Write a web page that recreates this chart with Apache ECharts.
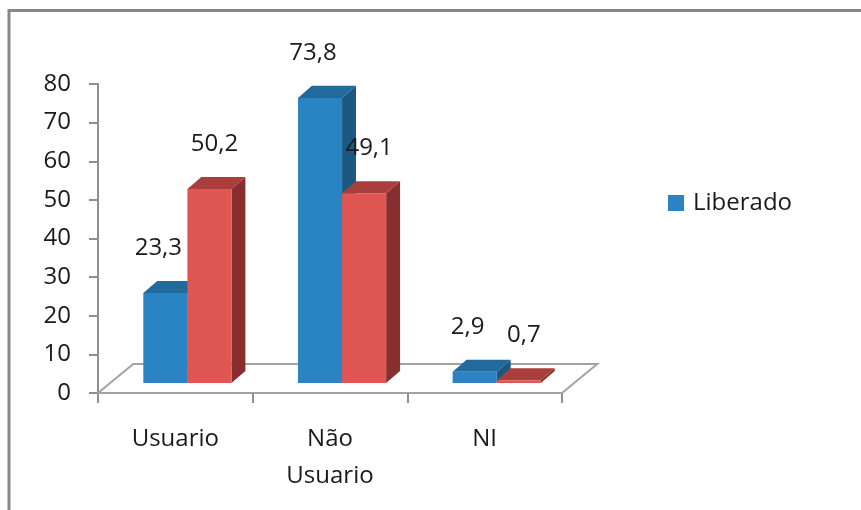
<!DOCTYPE html>
<html>
<head>
<meta charset="utf-8">
<script src="https://cdn.jsdelivr.net/npm/echarts@6/dist/echarts.min.js"></script>
<style>html,body{margin:0;padding:0;background:#fff}#c{width:861px;height:510px}</style>
</head>
<body>
<div id="c"></div>
<script>
const categories = ['Usuario', 'Não\nUsuario', 'NI'];
const liberado = [23.3, 73.8, 2.9];
const serie2 = [50.2, 49.1, 0.7];
const yTicks = [0, 10, 20, 30, 40, 50, 60, 70, 80];

const FONT = 'Open Sans';
const palettes = [
  { front: '#2A83C3', top: '#22699C', side: '#1B5882', labelShift: -7 },
  { front: '#E05653', top: '#A83F3D', side: '#872F2F', labelShift: 5 }
];

function fmt(v) { return v.toFixed(1).replace('.', ','); }

function renderBar(params, api) {
  const cat = api.value(0), v = api.value(1);
  const base = api.coord([cat, 0]);
  const top = api.coord([cat, v]);
  const band = api.size([1, 0])[0];
  const bw = band * 0.285;
  const fx = band * 0.078, fy = -band * 0.065;   // bar front plane offset
  const dx = band * 0.09, dy = -band * 0.078;    // bar depth
  const si = params.seriesIndex - 1;
  const p = palettes[si];
  const x0 = base[0] + fx - bw + si * bw;
  const yb = base[1] + fy, yt = top[1] + fy;
  return {
    type: 'group',
    children: [
      { type: 'polygon', shape: { points: [[x0 + bw, yt], [x0 + bw + dx, yt + dy], [x0 + bw + dx, yb + dy], [x0 + bw, yb]] }, style: { fill: p.side } },
      { type: 'polygon', shape: { points: [[x0, yt], [x0 + bw, yt], [x0 + bw + dx, yt + dy], [x0 + dx, yt + dy]] }, style: { fill: p.top } },
      { type: 'rect', shape: { x: x0, y: yt, width: bw, height: yb - yt }, style: { fill: p.front } },
      { type: 'text', z2: 10, x: x0 + bw / 2 + p.labelShift, y: yt - 45, style: { text: fmt(v), font: '24px "' + FONT + '"', fill: '#1a1a1a', align: 'center', verticalAlign: 'middle' } }
    ]
  };
}

function renderFloor(params, api) {
  const band = api.size([1, 0])[0];
  const a = api.coord([0, 0]);
  const b = api.coord([categories.length - 1, 0]);
  const xl = a[0] - band / 2, xr = b[0] + band / 2, y = a[1];
  const dx = band * 0.228, dy = -band * 0.188;
  return {
    type: 'polyline',
    shape: { points: [[xl, y], [xl + dx, y + dy], [xr + dx, y + dy], [xr, y]] },
    style: { stroke: '#a3a3a3', lineWidth: 2, fill: null }
  };
}

const chart = echarts.init(document.getElementById('c'));
chart.setOption({
  animation: false,
  backgroundColor: '#fff',
  graphic: [{
    type: 'rect', z: 100,
    shape: { x: 9, y: 10.5, width: 1000, height: 1000 },
    style: { fill: null, stroke: '#878787', lineWidth: 3 }
  }],
  legend: {
    data: [{ name: 'Liberado', icon: 'rect', itemStyle: { color: palettes[0].front } }],
    left: 663, top: 186, itemWidth: 16, itemHeight: 16, itemGap: 8,
    textStyle: { fontFamily: FONT, fontSize: 24, color: '#1a1a1a', padding: [0, 0, 0, 4] }
  },
  grid: { left: 98, right: 299, top: 84, bottom: 117 },
  xAxis: {
    type: 'category', data: categories,
    axisLine: { lineStyle: { color: '#a3a3a3', width: 2 } },
    axisTick: { show: true, length: 10, lineStyle: { color: '#8f8f8f', width: 2 } },
    axisLabel: { margin: 28, fontFamily: FONT, fontSize: 24, color: '#1a1a1a', lineHeight: 37, interval: 0 }
  },
  yAxis: {
    type: 'value', min: 0, max: 80, interval: 10,
    axisLine: { show: true, lineStyle: { color: '#8f8f8f', width: 2 } },
    axisTick: { show: true, length: 9, lineStyle: { color: '#8f8f8f', width: 2 } },
    splitLine: { show: false },
    axisLabel: { margin: 27, fontFamily: FONT, fontSize: 24, color: '#1a1a1a',
      formatter: v => yTicks.includes(v) ? String(v) : '' }
  },
  series: [
    { type: 'custom', name: 'floor', z: 1, renderItem: renderFloor, data: [[0, 0]], silent: true },
    { type: 'custom', name: 'Liberado', z: 2, renderItem: renderBar, data: liberado.map((v, i) => [i, v]), itemStyle: { color: palettes[0].front } },
    { type: 'custom', name: 'Série 2', z: 3, renderItem: renderBar, data: serie2.map((v, i) => [i, v]), itemStyle: { color: palettes[1].front } }
  ]
});
</script>
</body>
</html>
